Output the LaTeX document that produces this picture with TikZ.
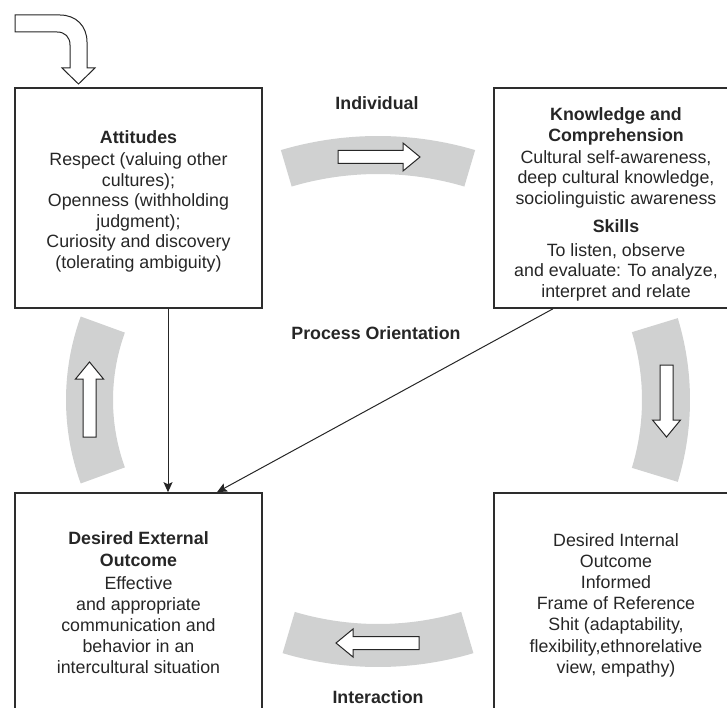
\documentclass[tikz,border=0pt]{standalone}
\usepackage{fontspec}
\setmainfont{Liberation Sans}
\usetikzlibrary{arrows.meta,calc}
\definecolor{arcgray}{RGB}{208,209,209}
\definecolor{linegray}{RGB}{45,45,45}
\newcommand{\bodyfont}{\fontsize{17.8}{20.5}\selectfont}
\newcommand{\bandarc}[6]{%
  \fill[band] plot[domain=#5:#6, samples=40] ({#1+#4*cos(\x)},{#2+#4*sin(\x)})
    -- plot[domain=#6:#5, samples=40] ({#1+#3*cos(\x)},{#2+#3*sin(\x)}) -- cycle;}
\tikzset{
  box/.style={draw=linegray, line width=1.6pt, minimum width=247pt, minimum height=220pt,
    inner sep=0pt, align=center, font=\bodyfont, text=black!85},
  lowbox/.style={box, font=\fontsize{17.8}{21.2}\selectfont},
  lbl/.style={font=\bodyfont\bfseries, text=black!85},
  conn/.style={draw=black!85, line width=1pt, -{Stealth[length=10pt,width=9pt,inset=2pt]}},
  band/.style={fill=arcgray, draw=none},
  shapeline/.style={line width=1pt, draw=black!85, fill=white, line join=miter},
  pics/blockarrow/.style={code={%
    \draw[shapeline] (0,-6.5) -- ({#1-17},-6.5) -- ({#1-17},-14) -- (#1,0)
      -- ({#1-17},14) -- ({#1-17},6.5) -- (0,6.5) -- cycle;}}
}
\begin{document}
\begin{tikzpicture}[x=1pt,y=-1pt]
\path[use as bounding box, clip] (0,0) rectangle (727,708);

% grey bands
\bandarc{378}{478}{304}{342}{-106.5}{-73.5}
\bandarc{410}{400}{232}{280}{-17}{17}
\bandarc{378}{331}{293}{336}{73.5}{106.5}
\bandarc{310}{400}{197}{244}{160}{200}

% block arrows
\pic (arrI) at (338,157) {blockarrow=82};
\pic[rotate=-90] (arrR) at (666.5,365) {blockarrow=72};
\pic[rotate=180] (arrB) at (419,643) {blockarrow=83};
\pic[rotate=90] (arrL) at (89.5,437) {blockarrow=75};

% boxes
\node[box] (att) at (138.5,198) {\rule{0pt}{19pt}\textbf{Attitudes}\\[2pt]Respect (valuing other\\cultures);\\Openness (withholding\\judgment);\\Curiosity and discovery\\(tolerating ambiguity)};
\node[box, minimum width=244pt] (know) at (616,198) {\rule{0pt}{25pt}\textbf{Knowledge and}\\[1pt]\textbf{Comprehension}\\[1pt]Cultural self-awareness,\\deep cultural knowledge,\\sociolinguistic awareness\\[8pt]\textbf{Skills}\\[3pt]To listen, observe\\and evaluate: To analyze,\\interpret and relate};
\node[lowbox] (ext) at (138.5,603) {\textbf{Desired External}\\[1pt]\textbf{Outcome}\\[1pt]Effective\\and appropriate\\communication and\\behavior in an\\intercultural situation};
\node[lowbox, minimum width=244pt] (int) at (616,603) {\rule{0pt}{17pt}Desired Internal\\Outcome\\Informed\\Frame of Reference\\Shit (adaptability,\\flexibility,ethnorelative\\view, empathy)};

% entry arrow
\draw[shapeline] (15,15) -- (60,15) .. controls (76,15) and (87,26) .. (87,42) -- (87,68)
  -- (95,68) -- (78.5,84) -- (62,68) -- (70,68) -- (70,45)
  .. controls (70,37) and (65,32) .. (57,32) -- (15,32) -- cycle;

% labels
\node[lbl] (lblI) at (377,103) {Individual};
\node[lbl] (lblP) at (376,333) {Process Orientation};
\node[lbl] (lblX) at (378,697) {Interaction};

% connectors
\coordinate (vx) at (168,0);
\coordinate (d1) at (553,0);
\coordinate (d2) at (217,0);
\draw[conn] (att.south -| vx) -- (ext.north -| vx);
\draw[conn] (know.south -| d1) -- (ext.north -| d2);
\end{tikzpicture}
\end{document}
